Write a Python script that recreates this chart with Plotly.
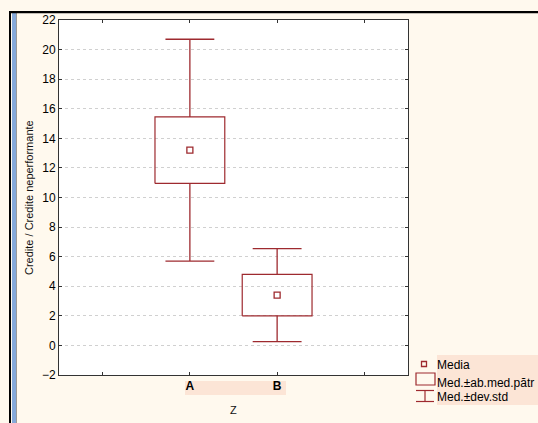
import plotly.graph_objects as go

categories = ["A", "B"]
means = [13.2, 3.4]
std_err = [2.25, 1.4]
std_dev = [7.5, 3.15]
y_ticks = list(range(-2, 23, 2))

W, H = 538, 423
L, R, T, B = 59, 408, 20, 375
RED = "#9E2A2F"
CREAM = "#FFF9EE"
PEACH = "#FCE5D6"

def xp(px):
    return (px - L) / (R - L)

def yp(py):
    return (B - py) / (B - T)

box_half = 0.4
cap_half = 0.28
pos = [i + 1.5 for i in range(len(categories))]

fig = go.Figure()

# boxes (mean +/- standard error) and whiskers (mean +/- std dev)
bx, by, wx, wy = [], [], [], []
for x, m, se, sd in zip(pos, means, std_err, std_dev):
    lo, hi = m - se, m + se
    bx += [x - box_half, x + box_half, x + box_half, x - box_half, x - box_half, None]
    by += [lo, lo, hi, hi, lo, None]
    wx += [x, x, None, x, x, None, x - cap_half, x + cap_half, None, x - cap_half, x + cap_half, None]
    wy += [hi, m + sd, None, lo, m - sd, None, m + sd, m + sd, None, m - sd, m - sd, None]

fig.add_trace(go.Scatter(x=wx, y=wy, mode="lines", line=dict(color=RED, width=1.3),
                         showlegend=False, hoverinfo="skip"))
fig.add_trace(go.Scatter(x=bx, y=by, mode="lines", line=dict(color=RED, width=1.2),
                         showlegend=False, hoverinfo="skip"))
fig.add_trace(go.Scatter(x=pos, y=means, mode="markers",
                         marker=dict(symbol="square-open", size=6, color=RED, line=dict(width=1.3)),
                         showlegend=False))

shapes = []
# left window decoration
shapes.append(dict(type="rect", xref="paper", yref="paper", x0=xp(9), x1=xp(11), y0=yp(12), y1=yp(423),
                   fillcolor="#000000", line=dict(width=0), layer="below"))
shapes.append(dict(type="rect", xref="paper", yref="paper", x0=xp(12), x1=xp(16), y0=yp(12), y1=yp(423),
                   fillcolor="#85A9DA", line=dict(width=0), layer="below"))
shapes.append(dict(type="line", xref="paper", yref="paper", x0=xp(16.5), x1=xp(16.5), y0=yp(13), y1=yp(423),
                   line=dict(color="#9A9A9A", width=1), layer="below"))
shapes.append(dict(type="rect", xref="paper", yref="paper", x0=xp(9), x1=xp(540), y0=yp(11), y1=yp(13.2),
                   fillcolor="#000000", line=dict(width=0), layer="below"))
# highlight behind tick labels
shapes.append(dict(type="rect", xref="paper", yref="paper", x0=xp(185), x1=xp(286), y0=yp(381), y1=yp(395),
                   fillcolor=PEACH, line=dict(width=0), layer="below"))
# legend highlight
shapes.append(dict(type="rect", xref="paper", yref="paper", x0=xp(437), x1=xp(540), y0=yp(355), y1=yp(405),
                   fillcolor=PEACH, line=dict(width=0), layer="below"))
# legend symbols
shapes.append(dict(type="rect", xref="paper", yref="paper", x0=xp(421.5), x1=xp(426.5), y0=yp(361.5), y1=yp(366.5),
                   line=dict(color=RED, width=1.3)))
shapes.append(dict(type="rect", xref="paper", yref="paper", x0=xp(416), x1=xp(435), y0=yp(373), y1=yp(385),
                   line=dict(color=RED, width=1.2)))
shapes.append(dict(type="line", xref="paper", yref="paper", x0=xp(416), x1=xp(434), y0=yp(390.5), y1=yp(390.5),
                   line=dict(color=RED, width=1.2)))
shapes.append(dict(type="line", xref="paper", yref="paper", x0=xp(416), x1=xp(434), y0=yp(401.5), y1=yp(401.5),
                   line=dict(color=RED, width=1.2)))
shapes.append(dict(type="line", xref="paper", yref="paper", x0=xp(425), x1=xp(425), y0=yp(390.5), y1=yp(401.5),
                   line=dict(color=RED, width=1.2)))

FONT = "Liberation Sans, Arial, sans-serif"
annotations = [
    dict(text="Credite / Credite neperformante", xref="paper", yref="paper", x=xp(29), y=yp(198),
         textangle=-90, showarrow=False, font=dict(size=11, color="#111111", family=FONT),
         xanchor="center", yanchor="middle"),
    dict(text="Z", xref="paper", yref="paper", x=xp(233), y=yp(410), showarrow=False,
         font=dict(size=11, color="#111111", family=FONT), xanchor="center", yanchor="middle"),
]
for txt, ypx in [("Media", 365), ("Med.±ab.med.pătr", 383), ("Med.±dev.std", 397.5)]:
    annotations.append(dict(text=txt, xref="paper", yref="paper", x=xp(435), y=yp(ypx), showarrow=False,
                            font=dict(size=12, color="#000000", family=FONT),
                            xanchor="left", yanchor="middle"))

fig.update_layout(
    width=W, height=H,
    margin=dict(l=L, r=W - R, t=T, b=H - B, autoexpand=False),
    paper_bgcolor=CREAM, plot_bgcolor="#FFFFFF",
    showlegend=False,
    shapes=shapes, annotations=annotations,
    xaxis=dict(range=[0, 4], tickvals=[0.5, 1.5, 2.5, 3.5],
               ticktext=["", "<b>" + categories[0] + "</b>", "<b>" + categories[1] + "</b>", ""],
               showgrid=False, zeroline=False, ticks="inside", ticklen=3, tickcolor="#333333",
               showline=True, linecolor="#333333", linewidth=1, mirror="ticks",
               tickfont=dict(size=12, color="#000000", family=FONT)),
    yaxis=dict(range=[-2, 22], tickvals=y_ticks, showgrid=True, gridcolor="#D0D0D0",
               griddash="dot", gridwidth=1, zeroline=False,
               ticks="inside", ticklen=3, tickcolor="#333333",
               showline=True, linecolor="#333333", linewidth=1, mirror="ticks",
               tickfont=dict(size=12, color="#000000", family=FONT)),
)

fig.write_html("out.html", config={"displayModeBar": False},
               post_script="document.body.style.margin='0';document.body.style.background='" + CREAM + "';")
